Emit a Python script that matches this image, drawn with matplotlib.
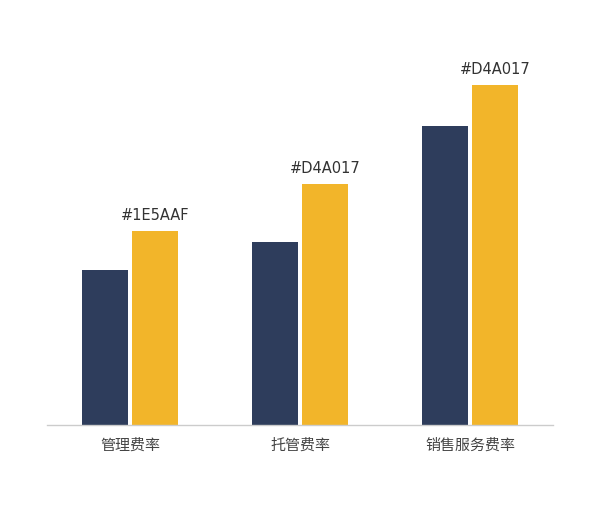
import matplotlib
matplotlib.use('Agg')
import matplotlib.pyplot as plt
import numpy as np

plt.rcParams['font.family'] = ['Noto Sans CJK SC', 'DejaVu Sans']

categories = ['管理费率', '托管费率', '销售服务费率']
series_a = [0.456, 0.538, 0.879]
series_b = [0.571, 0.709, 1.000]
labels_b = ['#1E5AAF', '#D4A017', '#D4A017']

navy = '#2E3D5C'
gold = '#F2B52A'

fig = plt.figure(figsize=(6, 5.12), dpi=100)
ax = fig.add_axes([47 / 600, 87 / 512, 506 / 600, 385 / 512])

x = np.arange(len(categories))
w = 0.27
gap = 0.012
ax.bar(x - w / 2 - gap, series_a, width=w, color=navy)
bars = ax.bar(x + w / 2 + gap, series_b, width=w, color=gold)

for b, lab in zip(bars, labels_b):
    ax.annotate(lab, (b.get_x() + b.get_width() / 2, b.get_height()),
                xytext=(0, 6), textcoords='offset points',
                ha='center', va='bottom', fontsize=10.5, color='#333333',
                family=['DejaVu Sans'])

ax.set_xlim(-0.488, 2.488)
ax.set_ylim(0, 385 / 340)
ax.set_xticks(x)
ax.set_xticklabels(categories, fontsize=10.8, color='#444444')
ax.tick_params(axis='x', length=0, pad=10)
ax.set_yticks([])
for s in ['top', 'right', 'left']:
    ax.spines[s].set_visible(False)
ax.spines['bottom'].set_color('#cccccc')
ax.spines['bottom'].set_linewidth(1)

fig.savefig('out.png', dpi=100, facecolor='white')
plt.close(fig)
